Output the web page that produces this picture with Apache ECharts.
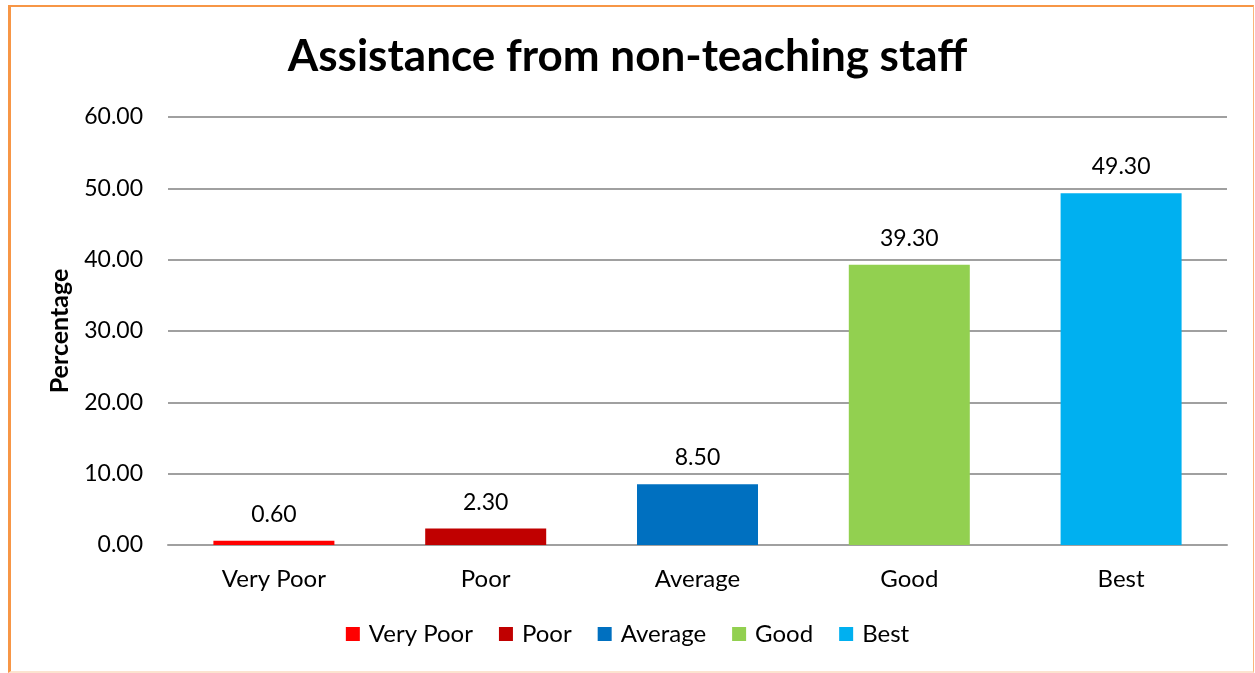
<!DOCTYPE html>
<html>
<head>
<meta charset="utf-8">
<script src="https://cdn.jsdelivr.net/npm/echarts@6/dist/echarts.min.js"></script>
<style>
  html, body { margin: 0; padding: 0; background: #fff; }
  #chart { position: absolute; left: 0; top: 0; width: 1255px; height: 673px; }
  #frame { position: absolute; left: 8px; top: 5px; width: 1242px; height: 664px;
    border-left: 3px solid #F79646; border-top: 2px solid #F79646;
    border-right: 1px solid #FAB57A; border-bottom: 2px solid #FCE4D0; pointer-events: none; }
</style>
</head>
<body>
<div id="chart"></div>
<div id="frame"></div>
<script>
const categories = ['Very Poor', 'Poor', 'Average', 'Good', 'Best'];
const values = [0.60, 2.30, 8.50, 39.30, 49.30];
const colors = ['#FF0000', '#C00000', '#0070C0', '#92D050', '#00B0F0'];
const yTicks = { min: 0, max: 60, interval: 10 };

const FONT = 'Lato, "Open Sans", sans-serif';
const chart = echarts.init(document.getElementById('chart'), null, { renderer: 'canvas' });

const series = categories.map((name, i) => ({
  name: name,
  type: 'bar',
  stack: 'all',
  barWidth: 121,
  data: categories.map((c, j) => (j === i ? values[i] : null)),
  itemStyle: { color: colors[i] },
  label: {
    show: true, position: 'top', distance: 15,
    fontFamily: FONT, fontSize: 23, color: '#000',
    formatter: p => (p.value == null ? '' : Number(p.value).toFixed(2))
  },
  emphasis: { disabled: true }
}));

chart.setOption({
  animation: false,
  backgroundColor: '#fff',
  title: {
    text: 'Assistance from non-teaching staff',
    left: 'center', top: 30,
    textStyle: { fontFamily: FONT, fontWeight: 'bold', fontSize: 44, color: '#000' }
  },
  legend: {
    data: categories,
    bottom: 22, left: 'center',
    itemWidth: 14, itemHeight: 14, itemGap: 26,
    icon: 'rect',
    textStyle: { fontFamily: FONT, fontSize: 24, color: '#000', padding: [0, 0, 0, 4] }
  },
  grid: { left: 168, right: 28, top: 117, bottom: 128, containLabel: false },
  xAxis: {
    type: 'category', data: categories,
    axisLine: { lineStyle: { color: '#A0A0A0', width: 2 } },
    axisTick: { show: false },
    axisLabel: { fontFamily: FONT, fontSize: 24, color: '#000', margin: 22 }
  },
  yAxis: {
    type: 'value', min: yTicks.min, max: yTicks.max, interval: yTicks.interval,
    name: 'Percentage', nameLocation: 'middle', nameGap: 96, nameRotate: 90,
    nameTextStyle: { fontFamily: FONT, fontWeight: 'bold', fontSize: 25, color: '#000' },
    axisLine: { show: false },
    axisTick: { show: false },
    splitLine: { lineStyle: { color: '#A0A0A0', width: 2 } },
    axisLabel: { fontFamily: FONT, fontSize: 23, color: '#000', margin: 25,
      formatter: v => v.toFixed(2) }
  },
  series: series
});
</script>
</body>
</html>
